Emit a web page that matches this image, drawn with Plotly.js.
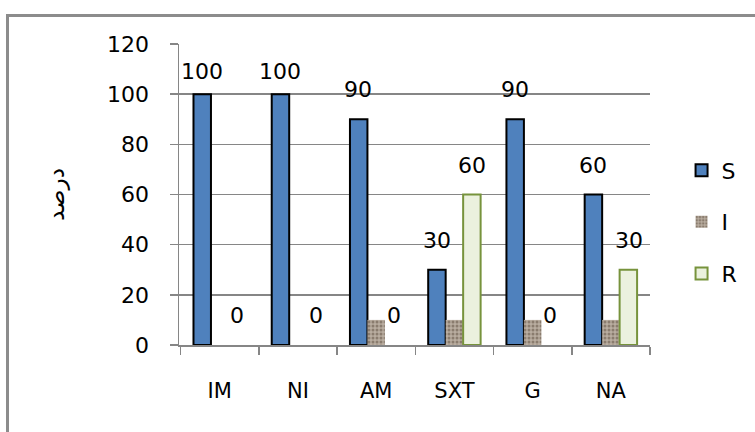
<!DOCTYPE html>
<html>
<head>
<meta charset="utf-8">
<script src="https://cdn.plot.ly/plotly-3.0.1.min.js"></script>
<style>
  html, body { margin: 0; padding: 0; background: #fff; }
  #wrap { position: relative; width: 755px; height: 432px; overflow: hidden; }
  #frame { position: absolute; left: 6px; top: 14px; width: 800px; height: 500px;
           border: 3px solid #8c8c8c; box-sizing: border-box; }
  #chart { position: absolute; left: 0; top: 0; width: 755px; height: 432px; }
</style>
</head>
<body>
<div id="wrap">
  <div id="frame"></div>
  <div id="chart"></div>
</div>
<script>
const categories = ['IM', 'NI', 'AM', 'SXT', 'G', 'NA'];
const sValues = [100, 100, 90, 30, 90, 60];
const iValues = [0, 0, 10, 10, 10, 10];
const rValues = [0, 0, 0, 60, 0, 30];
const seriesNames = ['S', 'I', 'R'];
const yTicks = [0, 20, 40, 60, 80, 100, 120];
const yTitle = 'درصد';

const FONT = 'DejaVu Sans, sans-serif';
const rStyle = { color: '#EBF1DE', lineColor: '#77933C' };

const traces = [
  {
    type: 'bar', name: seriesNames[0], x: categories, y: sValues,
    legendgroup: 'a', offsetgroup: 's',
    marker: { color: '#4F81BD', line: { color: '#000000', width: 2 } }
  },
  {
    type: 'bar', name: seriesNames[1], x: categories, y: iValues,
    legendgroup: 'b', offsetgroup: 'i',
    marker: { color: '#a89a8c', line: { width: 0 },
      pattern: { shape: '.', fgcolor: '#8a7c6e', bgcolor: '#b9ada0', size: 4, solidity: 0.45 } }
  },
  {
    // real R bars: no outline on zero-height bars
    type: 'bar', name: seriesNames[2], x: categories, y: rValues,
    legendgroup: 'c', offsetgroup: 'r', showlegend: false,
    marker: { color: rStyle.color,
      line: { color: rStyle.lineColor, width: rValues.map(v => (v > 0 ? 2 : 0)) } }
  },
  {
    // legend entry for R (shares the R slot, draws no bars)
    type: 'bar', name: seriesNames[2], x: categories, y: categories.map(() => null),
    legendgroup: 'c', offsetgroup: 'r', showlegend: true,
    marker: { color: rStyle.color, line: { color: rStyle.lineColor, width: 2 } }
  }
];

// data labels for S and R series, placed above bars
const barPx = 17.7;
const annotations = [];
function addLabels(vals, shift) {
  vals.forEach((v, i) => {
    annotations.push({
      x: categories[i], y: v, xref: 'x', yref: 'y',
      text: String(v), showarrow: false, yanchor: 'bottom',
      xshift: shift, yshift: v >= 100 ? 8 : 15,
      font: { family: FONT, size: 22, color: '#000' }
    });
  });
}
addLabels(sValues, -barPx);
addLabels(rValues, barPx);

const layout = {
  width: 755, height: 432,
  margin: { l: 179, r: 100, t: 44, b: 87 },
  paper_bgcolor: 'rgba(0,0,0,0)',
  plot_bgcolor: 'rgba(0,0,0,0)',
  barmode: 'group', bargap: 0.33, bargroupgap: 0,
  font: { family: FONT, size: 22, color: '#000' },
  xaxis: {
    type: 'category', tickson: 'boundaries', ticks: 'outside', ticklen: 8,
    tickcolor: '#868686', tickwidth: 1.5,
    showline: true, linecolor: '#868686', linewidth: 2,
    showgrid: false, ticklabelstandoff: 26,
    tickfont: { family: FONT, size: 21, color: '#000' }
  },
  yaxis: {
    range: [0, 120], tickvals: yTicks, ticks: 'outside', ticklen: 8,
    tickcolor: '#868686', tickwidth: 1.5,
    showline: true, linecolor: '#868686', linewidth: 1.5,
    showgrid: true, gridcolor: '#868686', gridwidth: 1.5,
    zeroline: false, ticklabelstandoff: 16,
    tickfont: { family: FONT, size: 22, color: '#000' },
    title: { text: yTitle, standoff: 36, font: { family: FONT, size: 23, color: '#000' } }
  },
  legend: {
    x: 1.067, xanchor: 'left', y: 0.409, yanchor: 'middle',
    tracegroupgap: 20, font: { family: FONT, size: 22, color: '#000' },
    itemwidth: 30, bgcolor: 'rgba(0,0,0,0)'
  },
  annotations: annotations,
  showlegend: true
};

Plotly.newPlot('chart', traces, layout, { displayModeBar: false, staticPlot: true });
</script>
</body>
</html>
